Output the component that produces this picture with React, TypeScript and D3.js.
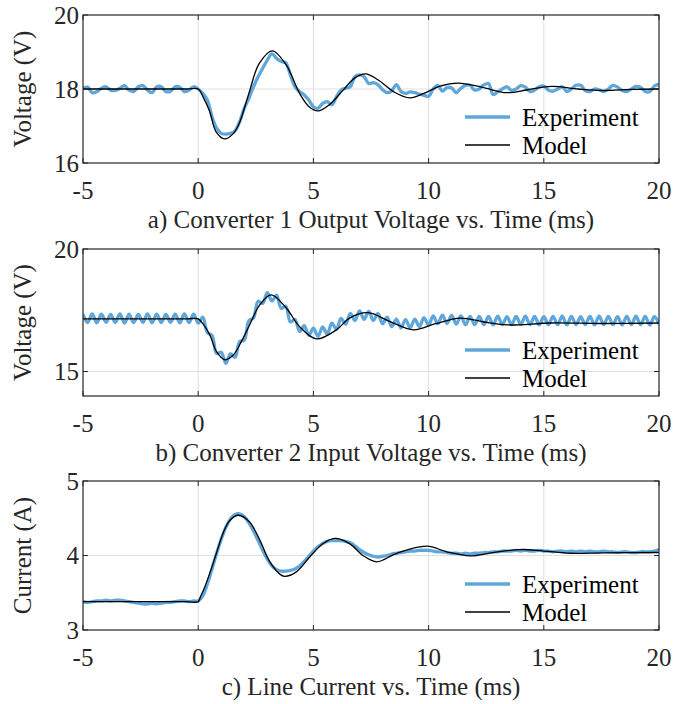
import React from "react";
import * as d3 from "d3";

const X_TICKS = [-5, 0, 5, 10, 15, 20];
const SAMPLE_START = -5;
const SAMPLE_STEP = 0.2;

// a) Converter 1 output voltage — experiment, sampled every 0.2 ms from -5 ms
const exp1 = [
  18.02, 18.05, 17.9, 17.93, 18.02, 18.06, 17.97, 17.96, 18.02, 18.09, 17.97, 17.93, 18.06,
  18.09, 17.97, 17.9, 18.06, 18.06, 17.93, 17.94, 18.06, 18.05, 17.93, 17.97, 18.06,
  18.0, 17.88, 17.7, 17.25, 16.94, 16.8, 16.78, 16.8, 16.87, 17.12, 17.48, 17.75, 18.06,
  18.33, 18.56, 18.78, 18.95, 18.83, 18.74, 18.71, 18.38, 18.06, 17.93, 17.84, 17.7, 17.52,
  17.48, 17.61, 17.66, 17.57, 17.79, 17.97, 18.02, 18.06, 18.33, 18.38, 18.33, 18.15, 18.17,
  18.12, 17.98, 17.9, 17.95, 18.12, 17.93, 17.88, 17.92, 17.9, 17.86, 17.83, 17.8, 18.0,
  18.1, 17.94, 18.04, 18.03, 17.9, 18.02, 18.1, 18.1, 17.97, 18.0, 18.11, 18.15, 17.85,
  17.92, 18.0, 18.06, 17.96, 18.0, 18.09, 18.05, 17.93, 17.97, 18.06, 18.08, 17.97, 17.94,
  18.0, 18.06, 17.93, 18.0, 18.1, 18.1, 17.96, 17.93, 18.0, 17.98, 17.93, 18.0, 18.1,
  18.05, 17.96, 17.93, 18.0, 18.07, 18.05, 17.93, 17.93, 18.08, 18.13,
];
const model1T = [-5, -0.5, 0, 0.2, 0.5, 0.77, 1.15, 1.5, 1.78, 2.2, 2.65, 3.22, 3.82, 4.4, 4.8, 5.2, 5.7, 6.29, 6.8, 7.27, 7.8, 8.5, 9.19, 9.8, 10.5, 11.29, 12.3, 13.39, 14.3, 15.34, 16.5, 17.57, 18.8, 20];
const model1V = [18, 18, 18, 17.8, 17.39, 16.85, 16.65, 16.78, 17.07, 17.88, 18.69, 19.03, 18.65, 17.88, 17.53, 17.41, 17.58, 17.97, 18.3, 18.41, 18.25, 17.92, 17.76, 17.88, 18.08, 18.16, 18.05, 17.9, 17.98, 18.07, 18.0, 17.96, 17.99, 18.0];

// b) Converter 2 input voltage
const exp2 = [
  17.34, 17.0, 17.35, 16.99, 17.34, 17.01, 17.33, 17.0, 17.35, 16.98, 17.34, 17.0, 17.33,
  17.01, 17.35, 16.99, 17.34, 17.0, 17.33, 17.01, 17.34, 16.99, 17.35, 17.0, 17.34,
  16.98, 17.22, 16.58, 16.47, 15.73, 15.79, 15.33, 15.72, 15.58, 16.22, 16.28, 17.07, 17.18,
  17.87, 17.78, 18.22, 17.88, 18.12, 17.58, 17.67, 17.03, 17.12, 16.63, 16.87, 16.48, 16.77,
  16.43, 16.82, 16.53, 16.97, 16.73, 17.17, 16.93, 17.37, 17.08, 17.47, 17.13, 17.45, 17.08,
  17.37, 16.95, 17.22, 16.83, 17.14, 16.78, 17.12, 16.78, 17.14, 16.83, 17.2, 16.9, 17.27,
  16.95, 17.3, 16.96, 17.29, 16.93, 17.27, 16.91, 17.25, 16.91, 17.25, 16.91, 17.25, 16.9,
  17.26, 16.91, 17.24, 16.91, 17.25, 16.92, 17.26, 16.91, 17.25, 16.9, 17.24, 16.91, 17.25,
  16.91, 17.26, 16.9, 17.25, 16.91, 17.24, 16.91, 17.25, 16.9, 17.26, 16.91, 17.25, 16.91,
  17.24, 16.9, 17.25, 16.91, 17.26, 16.91, 17.25, 16.9, 17.24, 16.93,
];
const model2T = [-5, -0.5, 0, 0.2, 0.5, 0.79, 1.15, 1.5, 1.8, 2.23, 2.67, 3.17, 3.83, 4.4, 5.13, 6.0, 6.57, 7.37, 8.3, 9.34, 10.3, 11.37, 12.4, 13.46, 15.3, 17.5, 20];
const model2V = [17.15, 17.15, 17.15, 16.95, 16.5, 15.82, 15.48, 15.65, 16.09, 16.9, 17.72, 18.13, 17.58, 16.83, 16.33, 16.7, 17.18, 17.4, 17.05, 16.7, 16.95, 17.18, 17.02, 16.9, 16.98, 16.96, 16.98];

// c) Line current
const exp3 = [
  3.38, 3.37, 3.38, 3.39, 3.39, 3.4, 3.39, 3.4, 3.4, 3.39, 3.38, 3.37, 3.36,
  3.35, 3.35, 3.36, 3.35, 3.36, 3.37, 3.37, 3.38, 3.39, 3.39, 3.38, 3.39,
  3.39, 3.46, 3.62, 3.82, 4.03, 4.22, 4.38, 4.49, 4.55, 4.56, 4.52, 4.44, 4.33,
  4.2, 4.07, 3.95, 3.86, 3.81, 3.79, 3.79, 3.8, 3.82, 3.86, 3.92, 3.99, 4.06,
  4.12, 4.16, 4.19, 4.2, 4.2, 4.2, 4.19, 4.17, 4.13, 4.08, 4.04, 4.01, 3.99,
  3.98, 3.99, 4.0, 4.02, 4.03, 4.04, 4.05, 4.06, 4.06, 4.07, 4.07, 4.07, 4.06,
  4.05, 4.05, 4.04, 4.03, 4.03, 4.02, 4.03, 4.02, 4.03, 4.03, 4.04, 4.04, 4.05,
  4.05, 4.06, 4.06, 4.06, 4.07, 4.06, 4.07, 4.06, 4.06, 4.07, 4.06, 4.06, 4.05,
  4.06, 4.06, 4.05, 4.06, 4.05, 4.06, 4.05, 4.06, 4.05, 4.05, 4.06, 4.05, 4.05,
  4.04, 4.05, 4.05, 4.04, 4.04, 4.05, 4.05, 4.05, 4.06, 4.08,
];
const model3T = [-5, -0.5, 0, 0.1, 0.25, 0.5, 0.79, 1.08, 1.37, 1.75, 2.23, 2.67, 3.1, 3.54, 3.75, 4.26, 4.84, 5.42, 5.92, 6.57, 7.15, 7.75, 8.62, 9.92, 10.79, 11.8, 12.8, 13.97, 15.0, 16.14, 17.59, 20];
const model3V = [3.38, 3.38, 3.38, 3.45, 3.55, 3.76, 4.03, 4.3, 4.47, 4.54, 4.45, 4.21, 3.92, 3.75, 3.72, 3.78, 3.98, 4.16, 4.23, 4.16, 4.0, 3.915, 4.03, 4.125, 4.05, 3.995, 4.04, 4.08, 4.06, 4.03, 4.036, 4.04];

const LEGEND = ["Experiment", "Model"];

const panels = [
  { exp: exp1, mT: model1T, mV: model1V, yDomain: [16, 20], yTicks: [16, 18, 20], yLabel: "Voltage (V)", title: "a) Converter 1 Output Voltage vs. Time (ms)", top: 15, bottom: 163 },
  { exp: exp2, mT: model2T, mV: model2V, yDomain: [14, 20], yTicks: [15, 20], yLabel: "Voltage (V)", title: "b) Converter 2 Input Voltage vs. Time (ms)", top: 249, bottom: 396 },
  { exp: exp3, mT: model3T, mV: model3V, yDomain: [3, 5], yTicks: [3, 4, 5], yLabel: "Current (A)", title: "c) Line Current vs. Time (ms)", top: 481, bottom: 630 },
];

const LEFT = 83;
const RIGHT = 659;
const BLUE = "#5fa6da";
const AX = "#262626";
const GRID = "#dfdfdf";
const FONT = "'Liberation Serif', 'Times New Roman', serif";

export default function App() {
  const x = d3.scaleLinear().domain([-5, 20]).range([LEFT, RIGHT]);
  return (
    <svg width={675} height={704} style={{ position: "absolute", left: 0, top: 0, background: "#fff" }} fontFamily={FONT}>
      <rect width={675} height={704} fill="#fff" />
      {panels.map((p, pi) => {
        const y = d3.scaleLinear().domain(p.yDomain).range([p.bottom, p.top]);
        const line = d3.line<[number, number]>().x((d) => x(d[0])).y((d) => y(d[1])).curve(d3.curveCatmullRom.alpha(0.5));
        const expPts: [number, number][] = p.exp.map((v, i) => [SAMPLE_START + i * SAMPLE_STEP, v]);
        const modPts: [number, number][] = p.mT.map((t, i) => [t, p.mV[i]]);
        const cid = `clip${pi}`;
        const midY = (p.top + p.bottom) / 2;
        const lx1 = 465, lx2 = 510, ltx = 522;
        const ly1 = p.bottom - 46, ly2 = p.bottom - 18;
        return (
          <g key={pi}>
            <clipPath id={cid}>
              <rect x={LEFT} y={p.top} width={RIGHT - LEFT} height={p.bottom - p.top} />
            </clipPath>
            {X_TICKS.slice(1, -1).map((t) => (
              <line key={"gx" + t} x1={x(t)} x2={x(t)} y1={p.top} y2={p.bottom} stroke={GRID} strokeWidth={1} />
            ))}
            {p.yTicks.filter((t) => t > p.yDomain[0] && t < p.yDomain[1]).map((t) => (
              <line key={"gy" + t} x1={LEFT} x2={RIGHT} y1={y(t)} y2={y(t)} stroke={GRID} strokeWidth={1} />
            ))}
            <g clipPath={`url(#${cid})`}>
              <path d={line(expPts) || ""} fill="none" stroke={BLUE} strokeWidth={3.3} strokeLinejoin="round" />
              <path d={line(modPts) || ""} fill="none" stroke="#000" strokeWidth={1.3} />
            </g>
            <rect x={LEFT} y={p.top} width={RIGHT - LEFT} height={p.bottom - p.top} fill="none" stroke={AX} strokeWidth={1.2} />
            {X_TICKS.map((t) => (
              <g key={"tx" + t}>
                <line x1={x(t)} x2={x(t)} y1={p.bottom} y2={p.bottom - 5} stroke={AX} />
                <line x1={x(t)} x2={x(t)} y1={p.top} y2={p.top + 5} stroke={AX} />
                <text x={x(t)} y={p.bottom + 36} textAnchor="middle" fontSize={25} fill={AX}>{t}</text>
              </g>
            ))}
            {p.yTicks.map((t) => (
              <g key={"ty" + t}>
                <line x1={LEFT} x2={LEFT + 5} y1={y(t)} y2={y(t)} stroke={AX} />
                <line x1={RIGHT} x2={RIGHT - 5} y1={y(t)} y2={y(t)} stroke={AX} />
                <text x={79} y={y(t) + 8.5} textAnchor="end" fontSize={25} fill={AX}>{t}</text>
              </g>
            ))}
            <text transform={`translate(31,${midY}) rotate(-90)`} textAnchor="middle" fontSize={25} fill={AX}>{p.yLabel}</text>
            <text x={(LEFT + RIGHT) / 2} y={p.bottom + 65} textAnchor="middle" fontSize={25} fill={AX}>{p.title}</text>
            <line x1={lx1} x2={lx2} y1={ly1} y2={ly1} stroke={BLUE} strokeWidth={3.3} />
            <text x={ltx} y={ly1 + 8.5} fontSize={25} fill="#000">{LEGEND[0]}</text>
            <line x1={lx1} x2={lx2} y1={ly2} y2={ly2} stroke="#000" strokeWidth={1.3} />
            <text x={ltx} y={ly2 + 8.5} fontSize={25} fill="#000">{LEGEND[1]}</text>
          </g>
        );
      })}
    </svg>
  );
}
